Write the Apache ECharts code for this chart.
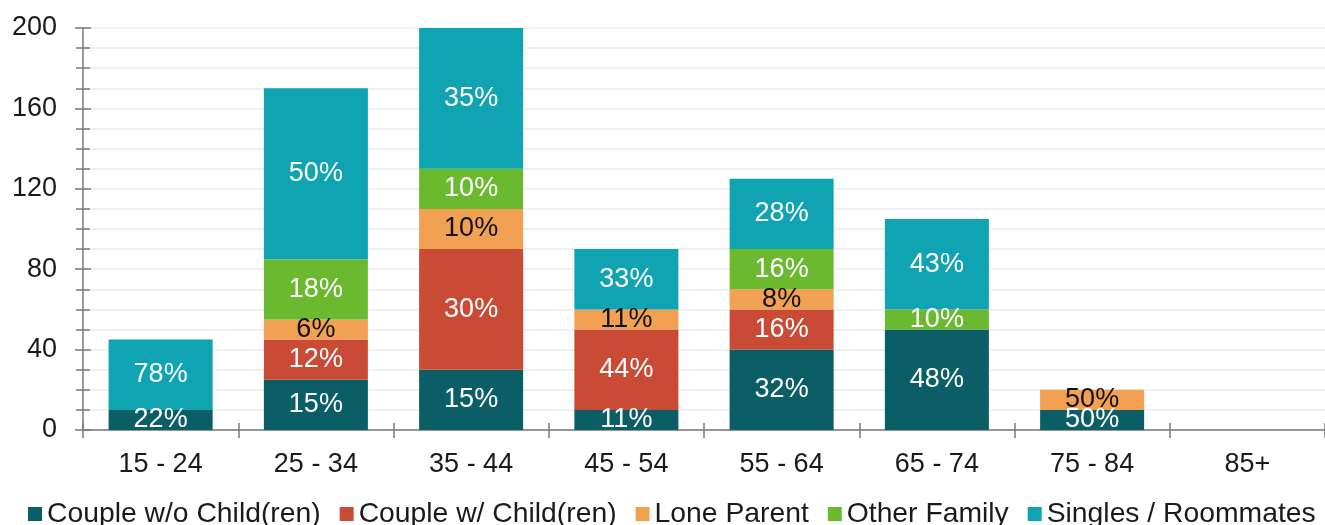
<!DOCTYPE html>
<html>
<head>
<meta charset="utf-8">
<script src="https://cdn.jsdelivr.net/npm/echarts@6/dist/echarts.min.js"></script>
<style>
  html, body { margin: 0; padding: 0; background: #fff; }
  #chart { width: 1325px; height: 525px; }
</style>
</head>
<body>
<div id="chart"></div>
<script>
// Household type by age group (counts); labels show each segment's share of its bar
const ageGroups = ['15 - 24', '25 - 34', '35 - 44', '45 - 54', '55 - 64', '65 - 74', '75 - 84', '85+'];
const coupleNoKids   = [10, 25, 30, 10, 40, 50, 10, null];
const coupleWithKids = [null, 20, 60, 40, 20, null, null, null];
const loneParent     = [null, 10, 20, 10, 10, null, 10, null];
const otherFamily    = [null, 30, 20, null, 20, 10, null, null];
const singles        = [35, 85, 70, 30, 35, 45, null, null];
const yTicks = [0, 40, 80, 120, 160, 200];

const seriesDefs = [
  { name: 'Couple w/o Child(ren)', data: coupleNoKids,   color: '#0b5e66', text: '#ffffff' },
  { name: 'Couple w/ Child(ren)',  data: coupleWithKids, color: '#c94b36', text: '#ffffff' },
  { name: 'Lone Parent',           data: loneParent,     color: '#f2a052', text: '#111111' },
  { name: 'Other Family',          data: otherFamily,    color: '#6bb92f', text: '#ffffff' },
  { name: 'Singles / Roommates',   data: singles,        color: '#10a4b3', text: '#ffffff' }
];

const totals = ageGroups.map((_, i) =>
  seriesDefs.reduce((s, d) => s + (d.data[i] || 0), 0));

const FONT = '"Liberation Sans", Arial, sans-serif';
const yMin = yTicks[0], yMax = yTicks[yTicks.length - 1], yStep = yTicks[1] - yTicks[0];
const AXIS_GREY = '#7a7a7a';

const chart = echarts.init(document.getElementById('chart'), null, { renderer: 'canvas' });

chart.setOption({
  animation: false,
  textStyle: { fontFamily: FONT },
  grid: { left: 83, top: 28, width: 1248, bottom: 95, containLabel: false },
  legend: {
    top: 495,
    left: 23,
    itemWidth: 14,
    itemHeight: 14,
    itemGap: 19,
    icon: 'rect',
    textStyle: { fontSize: 28.3, color: '#1a1a1a', fontFamily: FONT },
    data: seriesDefs.map(d => d.name)
  },
  xAxis: [
    {
      type: 'category',
      data: ageGroups,
      axisLine: { lineStyle: { color: AXIS_GREY, width: 1.5 } },
      axisTick: { show: true, length: 8, lineStyle: { color: AXIS_GREY, width: 1.5 } },
      axisLabel: { fontSize: 27, color: '#1a1a1a', margin: 21, fontFamily: FONT },
      splitLine: { show: false }
    },
    {
      // inner half of the category ticks so they cross the axis line
      type: 'category',
      data: ageGroups,
      position: 'bottom',
      axisLine: { show: false },
      axisTick: { show: true, inside: true, length: 7, lineStyle: { color: AXIS_GREY, width: 1.5 } },
      axisLabel: { show: false },
      splitLine: { show: false }
    }
  ],
  yAxis: [
    {
      type: 'value',
      min: yMin, max: yMax, interval: yStep,
      axisLine: { show: true, lineStyle: { color: AXIS_GREY, width: 1.5 } },
      axisTick: { show: true, length: 8, lineStyle: { color: AXIS_GREY, width: 1.5 } },
      minorTick: { show: true, splitNumber: 4, length: 7, lineStyle: { color: AXIS_GREY, width: 1.5 } },
      axisLabel: { fontSize: 27, color: '#1a1a1a', margin: 26, fontFamily: FONT },
      splitLine: { show: true, lineStyle: { color: '#ececec', width: 1.5 } },
      minorSplitLine: { show: true, lineStyle: { color: '#ececec', width: 1.5 } }
    },
    {
      // inner half of the value ticks
      type: 'value',
      position: 'left',
      min: yMin, max: yMax, interval: yStep,
      axisLine: { show: false },
      axisTick: { show: true, inside: true, length: 8, lineStyle: { color: AXIS_GREY, width: 1.5 } },
      minorTick: { show: true, splitNumber: 4, length: 7, lineStyle: { color: AXIS_GREY, width: 1.5 } },
      axisLabel: { show: false },
      splitLine: { show: false }
    }
  ],
  series: seriesDefs.map(d => ({
    name: d.name,
    type: 'bar',
    stack: 'households',
    barCategoryGap: '33%',
    itemStyle: { color: d.color },
    data: d.data,
    label: {
      show: true,
      position: 'inside',
      fontSize: 27,
      fontFamily: FONT,
      color: d.text,
      formatter: p => p.value == null ? '' : Math.round(p.value / totals[p.dataIndex] * 100) + '%'
    }
  }))
});
</script>
</body>
</html>
